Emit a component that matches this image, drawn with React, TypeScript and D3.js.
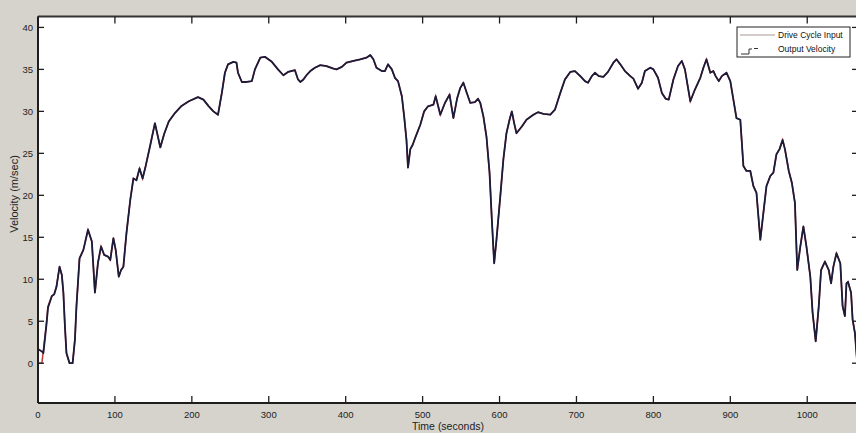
import React from 'react';
import * as d3 from 'd3';

// time stamps (s) shared by both traces
const timeSec = [
  0, 5, 7, 11, 13, 18, 21, 24, 28, 31, 33, 35, 37, 41, 45, 48, 50, 54, 59, 61,
  65, 70, 74, 78, 82, 86, 91, 94, 98, 101, 105, 108, 111, 115, 120, 124, 128, 132, 136, 140,
  146, 152, 159, 164, 170, 178, 186, 196, 208, 215, 222, 228, 234, 239, 243, 247, 254, 258, 260, 265,
  271, 278, 282, 289, 295, 304, 312, 319, 325, 334, 338, 341, 345, 349, 354, 360, 367, 375, 384, 388,
  395, 401, 410, 419, 427, 432, 436, 440, 447, 451, 455, 460, 464, 468, 473, 476, 479, 481, 484, 487,
  491, 497, 502, 507, 514, 517, 523, 529, 535, 540, 545, 549, 553, 557, 562, 568, 572, 575, 579, 583,
  587, 590, 593, 596, 601, 605, 609, 613, 616, 619, 622, 629, 635, 644, 650, 657, 666, 672, 679, 685,
  692, 698, 705, 711, 715, 720, 724, 729, 735, 741, 748, 752, 757, 763, 770, 774, 780, 785, 789, 796,
  800, 806, 811, 816, 820, 826, 832, 837, 841, 848, 854, 861, 865, 869, 874, 878, 881, 885, 889, 895,
  900, 904, 908, 913, 917, 921, 926, 930, 934, 939, 943, 947, 952, 956, 960, 964, 968, 971, 976, 980,
  984, 987, 991, 995, 999, 1004, 1007, 1011, 1015, 1018, 1023, 1028, 1031, 1034, 1038, 1043, 1046, 1049, 1051, 1053,
  1057, 1059, 1062, 1065,
];

const driveCycleInput = [
  0, 0, 1.5, 4.8, 6.8, 8, 8.2, 9.1, 11.5, 10.5, 8.4, 4.4, 1.2, 0, 0, 2.8, 6.8, 12.5, 13.5, 14.3,
  15.9, 14.5, 8.4, 12, 13.9, 12.9, 12.7, 12.3, 14.9, 13.5, 10.3, 11.1, 11.5, 15.5, 19.5, 22, 21.8, 23.2, 22, 23.5,
  26, 28.6, 25.7, 27.3, 28.8, 29.8, 30.6, 31.2, 31.7, 31.4, 30.6, 30, 29.6, 32.2, 34.6, 35.6, 35.9, 35.8, 34.6, 33.5,
  33.5, 33.6, 35, 36.4, 36.5, 35.9, 35, 34.3, 34.7, 34.9, 33.8, 33.5, 33.8, 34.3, 34.8, 35.2, 35.5, 35.4, 35.1, 35,
  35.3, 35.8, 36, 36.2, 36.4, 36.7, 36.2, 35.2, 34.8, 34.8, 35.6, 35, 34, 33.6, 31.8, 29.4, 26.6, 23.3, 25.5, 26,
  27, 28.4, 30, 30.6, 30.8, 31.8, 29.6, 31, 32, 29.2, 31.6, 32.8, 33.4, 32.3, 31, 31.1, 31.5, 31, 29.4, 27,
  22.7, 17.1, 11.9, 14.7, 19.9, 24.3, 27.4, 29, 30, 28.6, 27.4, 28.2, 29, 29.6, 29.9, 29.7, 29.6, 30.2, 32.2, 33.8,
  34.7, 34.8, 34.2, 33.6, 33.4, 34.2, 34.6, 34.2, 34.1, 34.7, 35.8, 36.2, 35.6, 34.8, 34.2, 33.9, 32.7, 33.4, 34.8, 35.2,
  35, 34, 32.2, 31.5, 31.4, 33.8, 35.4, 36, 35, 31.2, 32.6, 34, 35.2, 36.2, 34.6, 34.8, 34.2, 33.6, 34.2, 34.6,
  33.6, 31.4, 29.2, 29, 23.5, 22.9, 22.9, 21.1, 20.3, 14.7, 17.9, 21.1, 22.3, 22.7, 24.9, 25.5, 26.6, 25.5, 22.9, 21.5,
  19.1, 11.1, 13.9, 16.3, 13.9, 10.3, 6, 2.6, 6.8, 11.1, 12.1, 11.1, 9.5, 11.5, 13.1, 11.9, 6.8, 5.6, 9.5, 9.7,
  8.4, 5.2, 3.6, 0,
];

const outputVelocity = [
  1.7, 1.4, 1.2, 4.6, 6.6, 8, 8.2, 9.1, 11.5, 10.5, 8.4, 4.4, 1.2, 0, 0, 2.8, 6.8, 12.5, 13.5, 14.3,
  15.9, 14.5, 8.4, 12, 13.9, 12.9, 12.7, 12.3, 14.9, 13.5, 10.3, 11.1, 11.5, 15.5, 19.5, 22, 21.8, 23.2, 22, 23.5,
  26, 28.6, 25.7, 27.3, 28.8, 29.8, 30.6, 31.2, 31.7, 31.4, 30.6, 30, 29.6, 32.2, 34.6, 35.6, 35.9, 35.8, 34.6, 33.5,
  33.5, 33.6, 35, 36.4, 36.5, 35.9, 35, 34.3, 34.7, 34.9, 33.8, 33.5, 33.8, 34.3, 34.8, 35.2, 35.5, 35.4, 35.1, 35,
  35.3, 35.8, 36, 36.2, 36.4, 36.7, 36.2, 35.2, 34.8, 34.8, 35.6, 35, 34, 33.6, 31.8, 29.4, 26.6, 23.3, 25.5, 26,
  27, 28.4, 30, 30.6, 30.8, 31.8, 29.6, 31, 32, 29.2, 31.6, 32.8, 33.4, 32.3, 31, 31.1, 31.5, 31, 29.4, 27,
  22.7, 17.1, 11.9, 14.7, 19.9, 24.3, 27.4, 29, 30, 28.6, 27.4, 28.2, 29, 29.6, 29.9, 29.7, 29.6, 30.2, 32.2, 33.8,
  34.7, 34.8, 34.2, 33.6, 33.4, 34.2, 34.6, 34.2, 34.1, 34.7, 35.8, 36.2, 35.6, 34.8, 34.2, 33.9, 32.7, 33.4, 34.8, 35.2,
  35, 34, 32.2, 31.5, 31.4, 33.8, 35.4, 36, 35, 31.2, 32.6, 34, 35.2, 36.2, 34.6, 34.8, 34.2, 33.6, 34.2, 34.6,
  33.6, 31.4, 29.2, 29, 23.5, 22.9, 22.9, 21.1, 20.3, 14.7, 17.9, 21.1, 22.3, 22.7, 24.9, 25.5, 26.6, 25.5, 22.9, 21.5,
  19.1, 11.1, 13.9, 16.3, 13.9, 10.3, 6, 2.6, 6.8, 11.1, 12.1, 11.1, 9.5, 11.5, 13.1, 11.9, 6.8, 5.6, 9.5, 9.7,
  8.4, 5.2, 3.6, 0,
];

const xTicks = [0, 100, 200, 300, 400, 500, 600, 700, 800, 900, 1000];
const yTicks = [0, 5, 10, 15, 20, 25, 30, 35, 40];
const legendLabels = ['Drive Cycle Input', 'Output Velocity'];

const W = 856;
const H = 433;
const plot = { left: 38, right: 858, top: 16.5, bottom: 403 };

export default function App() {
  const x = d3.scaleLinear().domain([0, 1066]).range([plot.left, plot.right]);
  const y = d3.scaleLinear().domain([-4.74, 41.3]).range([plot.bottom, plot.top]);

  const line = d3
    .line<number>()
    .x((d, i) => x(timeSec[i]))
    .y((d) => y(d));

  const axisCol = '#1e1e1e';
  const font = 'Arial, "Liberation Sans", sans-serif';

  return (
    <svg width={W} height={H} style={{ position: 'absolute', left: 0, top: 0 }}>
      <rect x={0} y={0} width={W} height={H} fill="#d6d3cc" />
      <rect x={plot.left} y={plot.top} width={plot.right - plot.left} height={plot.bottom - plot.top} fill="#ffffff" />

      {/* data */}
      <path d={line(driveCycleInput) || ''} fill="none" stroke="#c03a3a" strokeWidth={1.5} />
      <path d={line(outputVelocity) || ''} fill="none" stroke="#1b1b3a" strokeWidth={1.8} strokeLinejoin="round" />

      {/* frame */}
      <line x1={plot.left} x2={plot.right} y1={plot.top} y2={plot.top} stroke="#333" strokeWidth={2} />
      <line x1={plot.left} x2={plot.right} y1={plot.bottom} y2={plot.bottom} stroke={axisCol} strokeWidth={2} />
      <line x1={plot.left} x2={plot.left} y1={plot.top} y2={plot.bottom} stroke={axisCol} strokeWidth={2} />

      {/* x ticks */}
      {xTicks.map((t) => (
        <g key={'x' + t}>
          <line x1={x(t)} x2={x(t)} y1={plot.bottom} y2={plot.bottom - 7} stroke={axisCol} strokeWidth={1.3} />
          <line x1={x(t)} x2={x(t)} y1={plot.top} y2={plot.top + 7} stroke={axisCol} strokeWidth={1.3} />
          <text x={x(t)} y={418} textAnchor="middle" fontSize={9.5} fontFamily={font} fill="#222">
            {t}
          </text>
        </g>
      ))}

      {/* y ticks */}
      {yTicks.map((v) => (
        <g key={'y' + v}>
          <line x1={plot.left} x2={plot.left + 6} y1={y(v)} y2={y(v)} stroke={axisCol} strokeWidth={1.3} />
          <line x1={plot.right - 6} x2={plot.right} y1={y(v)} y2={y(v)} stroke={axisCol} strokeWidth={1.3} />
          <text x={33} y={y(v) + 3.5} textAnchor="end" fontSize={9.5} fontFamily={font} fill="#222">
            {v}
          </text>
        </g>
      ))}

      <text x={448} y={429.5} textAnchor="middle" fontSize={10.5} fontFamily={font} fill="#222">
        Time (seconds)
      </text>
      <text
        transform={`translate(18,194) rotate(-90)`}
        textAnchor="middle"
        fontSize={11}
        fontFamily={font}
        fill="#222"
      >
        Velocity (m/sec)
      </text>

      {/* legend */}
      <rect x={737} y={27} width={113} height={30} fill="#ffffff" stroke="#222" strokeWidth={1} />
      <line x1={740} x2={775} y1={35} y2={35} stroke="#a89595" strokeWidth={1.2} />
      <path d="M741,54 H749 V49 H752 M754,48.5 H758" fill="none" stroke="#333" strokeWidth={1} />
      <text x={778} y={38} fontSize={8.5} fontFamily={font} fill="#111">
        {legendLabels[0]}
      </text>
      <text x={778} y={52} fontSize={8.5} fontFamily={font} fill="#111">
        {legendLabels[1]}
      </text>
    </svg>
  );
}
